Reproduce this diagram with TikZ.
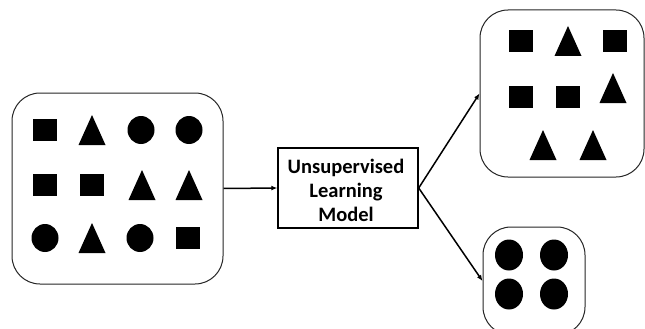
\documentclass[tikz,border=0pt]{standalone}
\usepackage{fontspec}
\setmainfont{Carlito}
\usetikzlibrary{arrows.meta}
\tikzset{
  panel/.style={draw=black!85, line width=1pt, rounded corners=28pt, fill=white},
  modelbox/.style={draw=black, line width=1.4pt, fill=white, align=center,
    font=\bfseries\fontsize{20.5}{24}\selectfont, inner sep=0pt},
  link/.style={draw=black, line width=1.5pt, -{Latex[length=6pt,width=5pt]}},
  pics/sq/.style={code={\fill[black] (-12,-11) rectangle (12,11);}},
  pics/tri/.style={code={\fill[black] (-13.5,15) -- (0,-15) -- (13.5,15) -- cycle;}},
  pics/blob/.style={code={\fill[black] (0,0) ellipse (13.5 and 14);}},
  pics/tallblob/.style={code={\fill[black] (0,0) ellipse (14 and 15.5);}},
}
\begin{document}
\begin{tikzpicture}[x=1pt,y=-1pt]
  \useasboundingbox (0,0) rectangle (645,329);
  \fill[white] (0,0) rectangle (645,329);

  % input collection
  \node[panel, minimum width=211pt, minimum height=191pt] (pool) at (117.5,188.5) {};
  \pic at (45,130) {sq};   \pic at (92,130) {tri};  \pic at (141,130) {blob}; \pic at (189,130) {blob};
  \pic at (45,185) {sq};   \pic at (92,185) {sq};   \pic at (142,185) {tri};  \pic at (189,185) {tri};
  \pic at (45,238) {blob}; \pic at (92,238) {tri};  \pic at (140,238) {blob}; \pic at (188,238) {sq};

  % model
  \node[modelbox, minimum width=140pt, minimum height=80pt] (model) at (348,188) {};
  \node[font=\bfseries\fontsize{20.5}{24}\selectfont, align=center, inner sep=0pt]
    (modeltext) at (346,190) {Unsupervised\\Learning\\Model};

  % first cluster: squares and triangles
  \node[panel, minimum width=164pt, minimum height=167pt] (groupA) at (562,93.5) {};
  \pic at (521,41) {sq};  \pic at (568,41) {tri}; \pic at (615,41) {sq};
  \pic at (521,97) {sq};  \pic at (568,97) {sq};  \pic at (613,88) {tri};
  \pic at (543,145) {tri}; \pic at (593,145) {tri};

  % second cluster: circles
  \node[panel, minimum width=102pt, minimum height=108pt] (groupB) at (534,281) {};
  \pic at (509,255) {tallblob}; \pic at (554,255) {tallblob};
  \pic at (509,294) {tallblob}; \pic at (554,294) {tallblob};

  % connectors
  \draw[link] (pool.east) -- (model.west);
  \draw[link] (model.east) -- (groupA.west);
  \draw[link] (model.east) -- (groupB.west);
\end{tikzpicture}
\end{document}
